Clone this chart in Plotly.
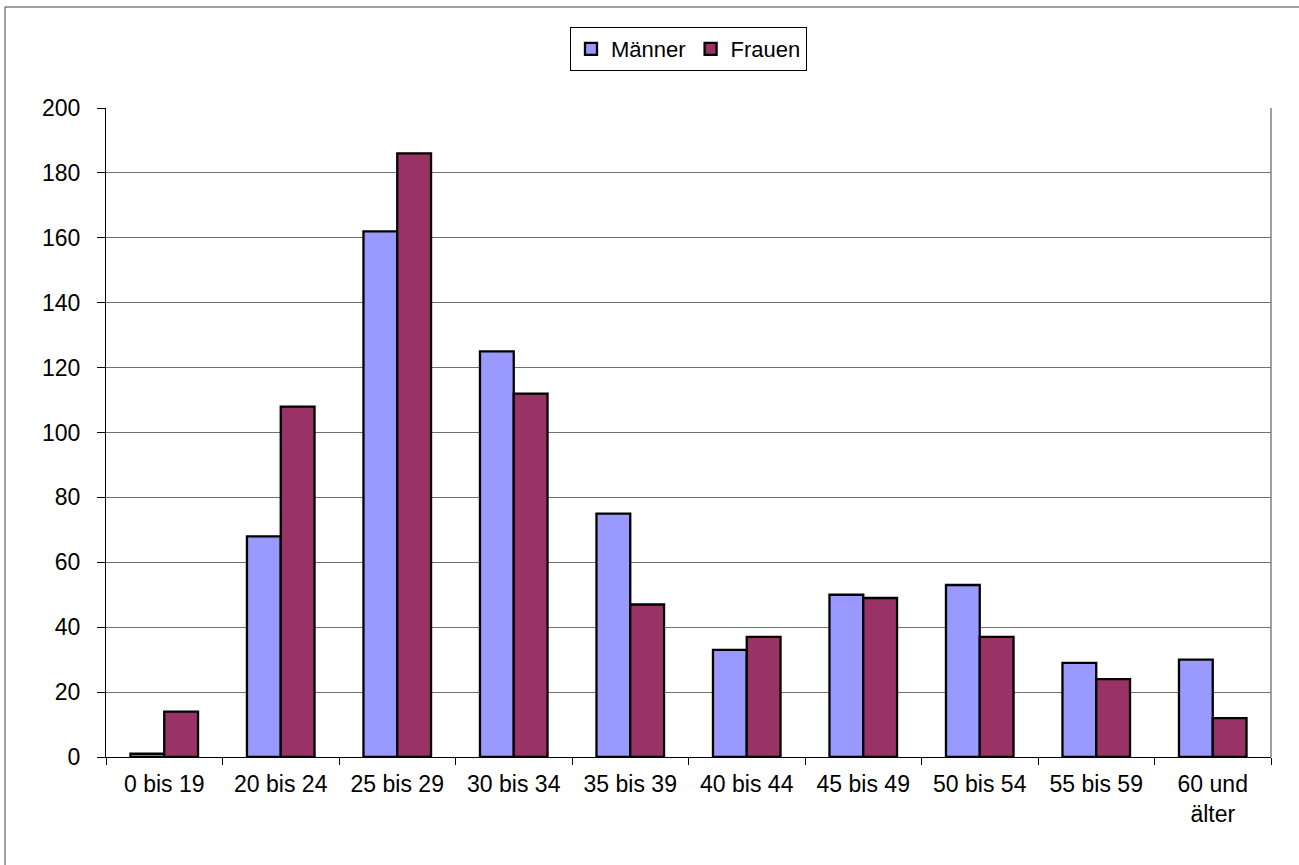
import plotly.graph_objects as go

categories = ["0 bis 19", "20 bis 24", "25 bis 29", "30 bis 34", "35 bis 39",
              "40 bis 44", "45 bis 49", "50 bis 54", "55 bis 59", "60 und<br>älter"]
maenner = [1, 68, 162, 125, 75, 33, 50, 53, 29, 30]
frauen = [14, 108, 186, 112, 47, 37, 49, 37, 24, 12]
y_ticks = [0, 20, 40, 60, 80, 100, 120, 140, 160, 180, 200]

W, H = 1299, 865
L, R, T, B = 106, 1271, 108, 757

fig = go.Figure()
fig.add_trace(go.Bar(name="Männer", x=categories, y=maenner,
                     marker=dict(color="#9999FF", line=dict(color="black", width=2.3))))
fig.add_trace(go.Bar(name="Frauen", x=categories, y=frauen,
                     marker=dict(color="#993366", line=dict(color="black", width=2.3))))

def px2x(px):
    return (px - L) / (R - L)

def py2y(py):
    return (B - py) / (B - T)

fig.update_layout(
    width=W, height=H,
    margin=dict(l=L, r=W - R, t=T, b=H - B, autoexpand=False),
    paper_bgcolor="white", plot_bgcolor="white",
    barmode="group", bargap=0.42, bargroupgap=0,
    font=dict(family="Liberation Sans, Arial", size=23, color="black"),
    legend=dict(orientation="h", x=0.5, xanchor="center", y=py2y(27), yanchor="top",
                bordercolor="black", borderwidth=1, bgcolor="white",
                font=dict(size=22), itemwidth=30, traceorder="normal"),
    xaxis=dict(showline=True, linecolor="black", linewidth=1, ticks="outside",
               ticklen=7, tickcolor="black", tickson="boundaries", showgrid=False,
               tickangle=0, ticklabelstandoff=6),
    yaxis=dict(range=[0, 200], tickvals=y_ticks, showline=True, linecolor="black",
               linewidth=1, ticks="outside", ticklen=8, tickcolor="black",
               showgrid=True, gridcolor="#707070", gridwidth=1, zeroline=False,
               ticklabelstandoff=12),
    shapes=[
        dict(type="line", xref="paper", yref="paper", x0=1, x1=1, y0=0, y1=1,
             line=dict(color="#808080", width=1.5)),
        dict(type="line", xref="paper", yref="paper", x0=px2x(5), x1=px2x(1310),
             y0=py2y(7), y1=py2y(7), line=dict(color="#444444", width=1)),
        dict(type="line", xref="paper", yref="paper", x0=px2x(5), x1=px2x(5),
             y0=py2y(7), y1=py2y(880), line=dict(color="#444444", width=1)),
    ],
)

fig.write_html("out.html", config={"displayModeBar": False},
               post_script="document.body.style.margin='0';document.body.style.overflow='hidden';")
